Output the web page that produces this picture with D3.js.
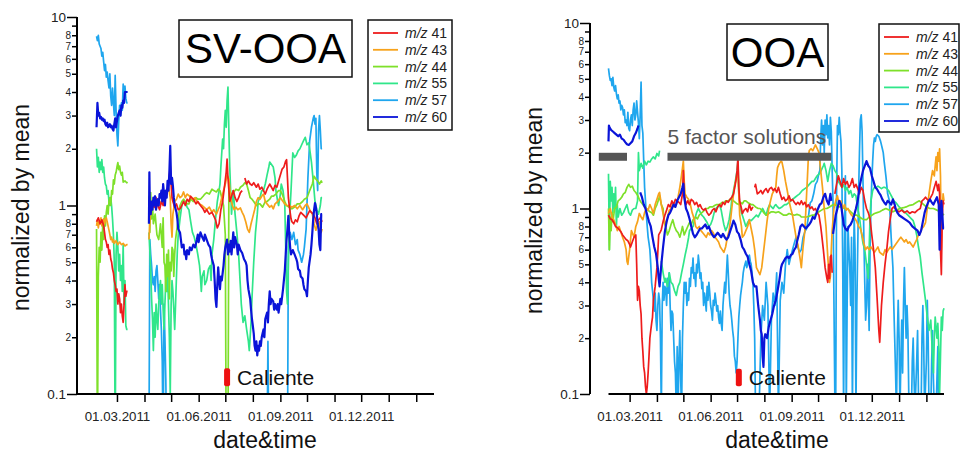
<!DOCTYPE html>
<html>
<head>
<meta charset="utf-8">
<script src="https://cdn.jsdelivr.net/npm/d3@7"></script>
<style>
  body { margin: 0; background: #fff; }
  svg { display: block; }
  text { font-family: "Liberation Sans", Arial, Helvetica, sans-serif; }
</style>
</head>
<body>
<svg id="chart" width="960" height="452"></svg>
<script>
// ---------------------------------------------------------------
// Data: each series is a list of [day, value] pairs, where day is
// the number of days since 1 Jan 2011 and value is the signal
// normalized by its mean. [day, null] breaks the trace.
// ---------------------------------------------------------------
const seriesNames  = ["41", "43", "44", "55", "57", "60"];
const seriesColors = ["#ee1c1c", "#f7a21b", "#7ee02a", "#30e68a", "#1fa6ee", "#0a14d8"];

// ---- SV-OOA ----
const sv41 = [[36,0.82],[38,0.86],[40,0.80],[42,0.84],[44,0.78],[45,0.72],[46,0.66],[47,0.64],[48,0.60],[49,0.62],[50,0.55],[51,0.58],[52,0.52],[53,0.50],[54,0.46],[55,0.44],[56,0.40],[57,0.38],[58,0.35],[59,0.36],[60,0.30],[61,0.34],[62,0.32],[63,0.27],[64,0.30],[65,0.26],[66,0.24],[67,0.30],[68,0.38],[69,0.33],[70,0.35],[71,0.35],[72,null],
  [95,0.95],[97,0.90],[99,1.05],[101,0.98],[103,1.10],[105,1.00],[107,0.95],[109,1.05],[111,1.00],[113,1.12],[115,1.20],[117,1.27],[119,1.62],[120,1.30],[121,1.10],[122,1.05],[124,0.98],[126,1.02],[128,0.95],[130,0.96],[132,1.00],[134,1.05],[136,1.00],[138,1.08],[140,1.05],[142,1.12],[145,1.08],[148,1.02],[150,1.05],[153,1.00],[156,0.96],[158,0.92],[160,0.95],[163,0.90],[166,0.92],[168,0.88],[170,0.84],[172,0.76],[174,0.80],[176,0.95],[178,1.05],[180,1.25],[182,1.50],[183,1.76],[184,1.40],[186,1.05],[188,1.12],[190,1.20],[192,1.10],[194,1.05],[196,1.10],[198,1.17],[200,1.20],[201,null],
  [203,1.40],[205,1.30],[207,1.35],[209,1.30],[211,1.28],[213,1.32],[216,1.25],[218,1.30],[220,1.22],[222,1.25],[224,1.20],[226,1.15],[228,1.22],[231,1.30],[233,1.25],[235,1.20],[237,1.28],[239,1.25],[241,1.35],[243,1.45],[245,1.56],[247,1.60],[249,1.72],[250,1.75],[251,1.40],[252,1.10],[253,1.00],[255,0.85],[256,0.82],[258,0.80],[260,0.84],[262,0.82],[264,0.88],[266,0.92],[268,0.90],[270,0.88],[272,0.86],[274,0.90],[276,0.94],[278,0.92],[280,0.90],[282,0.86],[284,0.80],[286,0.84],[288,0.86],[290,0.82]];

const sv43 = [[36,0.78],[37,0.84],[38,0.76],[39,0.82],[40,0.80],[41,0.86],[42,0.78],[43,0.82],[44,0.85],[45,0.80],[46,0.84],[47,0.86],[48,0.82],[49,0.78],[50,0.74],[51,0.70],[52,0.66],[53,0.68],[54,0.64],[55,0.66],[56,0.63],[58,0.65],[60,0.62],[62,0.64],[64,0.62],[66,0.63],[68,0.61],[70,0.62],[71,0.62],[72,null],
  [95,0.66],[96,0.80],[97,0.93],[99,0.98],[101,1.02],[103,0.95],[105,1.05],[107,1.00],[109,1.05],[111,1.10],[113,1.15],[115,1.20],[117,1.25],[119,1.10],[120,0.80],[121,0.68],[122,0.90],[124,1.05],[126,1.08],[128,1.15],[130,1.10],[132,1.12],[134,1.18],[136,1.10],[138,1.15],[141,1.12],[144,1.08],[147,1.10],[149,1.05],[152,1.02],[155,1.00],[157,0.98],[160,0.95],[163,0.98],[166,0.92],[168,0.95],[171,0.90],[173,0.95],[175,1.00],[177,1.10],[179,1.20],[181,1.30],[183,1.45],[185,1.38],[187,1.10],[189,1.00],[191,0.95],[193,0.98],[195,0.95],[198,0.97],[200,0.92],[202,0.88],[204,0.82],[206,0.75],[208,0.72],[210,0.80],[212,0.87],[214,0.95],[216,1.05],[218,1.10],[220,1.08],[222,1.12],[224,1.15],[226,1.05],[228,1.02],[231,0.98],[233,1.00],[235,0.96],[237,1.02],[240,1.05],[243,1.10],[246,1.05],[248,1.02],[250,1.00],[253,1.00],[256,0.98],[259,1.00],[262,0.96],[265,1.00],[268,0.95],[271,1.00],[273,1.02],[276,0.95],[279,0.90],[281,0.80],[283,0.74],[285,0.80],[287,0.82],[289,0.72],[290,0.75]];

const sv44 = [[36,0.75],[37,0.05],[38,0.42],[39,0.60],[40,0.50],[41,0.72],[42,0.58],[43,0.80],[44,0.66],[45,0.88],[46,0.78],[47,0.92],[48,1.00],[49,0.90],[50,1.05],[51,1.10],[52,1.00],[53,1.20],[54,1.15],[55,1.37],[56,1.30],[57,1.45],[58,1.50],[59,1.60],[60,1.69],[61,1.55],[62,1.62],[63,1.50],[64,1.45],[65,1.50],[66,1.33],[68,1.35],[70,1.32],[71,1.33],[72,null],
  [95,1.12],[96,0.72],[97,1.17],[98,0.85],[99,1.00],[100,0.80],[102,0.90],[104,0.70],[106,0.66],[108,0.80],[110,0.60],[111,0.86],[112,0.50],[113,0.48],[114,0.35],[115,0.55],[116,0.42],[117,0.58],[118,0.32],[119,0.50],[120,0.45],[121,0.60],[122,0.58],[123,0.42],[124,0.55],[125,0.66],[126,0.72],[128,0.85],[130,1.00],[132,1.05],[134,1.08],[136,1.05],[138,1.02],[140,1.02],[142,1.08],[145,1.05],[148,1.10],[150,1.08],[153,1.08],[156,1.12],[158,1.15],[160,1.17],[163,1.15],[166,1.22],[168,1.20],[171,1.18],[173,1.22],[175,1.20],[177,1.10],[179,1.00],[181,0.70],[182,0.05],[184,0.05],[185,1.20],[187,1.15],[190,1.17],[193,1.22],[196,1.20],[198,1.25],[201,1.28],[203,1.32],[205,1.30],[207,1.20],[209,1.10],[211,1.08],[213,1.05],[216,1.00],[218,1.02],[220,1.02],[223,0.98],[226,1.05],[228,1.05],[231,1.08],[233,1.12],[235,1.12],[238,1.15],[241,1.20],[243,1.20],[245,1.15],[248,1.05],[250,1.00],[253,0.98],[256,0.96],[259,0.98],[262,1.02],[265,1.02],[268,1.05],[270,1.08],[273,1.10],[276,1.20],[279,1.30],[281,1.43],[283,1.38],[285,1.35],[287,1.30],[289,1.35],[290,1.32]];

const sv55 = [[36,2.00],[37,1.60],[38,1.80],[39,1.50],[40,1.70],[41,1.55],[42,1.75],[43,1.50],[44,1.60],[45,1.40],[46,1.30],[47,1.27],[48,1.15],[49,1.20],[50,1.05],[51,1.00],[52,1.10],[53,0.99],[54,0.85],[55,0.70],[56,0.50],[57,0.05],[58,0.55],[59,0.72],[60,0.60],[61,0.45],[62,0.55],[63,0.40],[64,0.48],[65,0.35],[66,0.62],[67,0.30],[68,0.40],[69,0.23],[70,0.22],[71,0.22],[72,null],
  [95,0.72],[96,0.58],[97,0.45],[98,0.32],[99,0.25],[100,0.17],[101,0.27],[102,0.20],[103,0.30],[104,0.25],[105,0.22],[106,0.30],[107,0.35],[108,0.40],[109,0.30],[110,0.38],[111,0.28],[112,0.22],[113,0.30],[114,0.40],[115,0.35],[116,0.45],[117,0.30],[118,0.20],[119,0.10],[120,0.30],[121,0.40],[122,0.35],[123,0.28],[124,0.22],[125,0.30],[126,0.42],[127,0.58],[128,0.70],[130,0.85],[132,1.00],[134,1.05],[136,1.05],[138,0.98],[140,0.95],[142,0.82],[144,0.72],[146,0.68],[148,0.62],[150,0.55],[152,0.48],[153,0.42],[154,0.35],[155,0.42],[157,0.45],[158,0.38],[160,0.40],[162,0.46],[164,0.48],[165,0.40],[166,0.55],[168,0.66],[170,0.85],[172,1.05],[174,1.20],[175,1.30],[176,1.60],[177,1.90],[178,2.25],[179,2.00],[180,2.70],[181,3.20],[182,2.60],[183,3.60],[184,4.25],[185,2.50],[186,1.60],[187,1.20],[188,0.90],[190,1.20],[192,0.90],[194,0.72],[196,0.55],[198,0.37],[199,0.30],[201,0.24],[203,0.26],[205,0.22],[207,0.19],[208,0.17],[210,0.24],[211,0.32],[213,0.50],[215,0.72],[217,0.90],[218,1.05],[220,1.10],[222,1.20],[224,1.20],[226,1.30],[228,1.45],[230,1.60],[231,1.70],[233,1.65],[235,1.60],[237,1.40],[238,1.20],[240,1.05],[241,1.00],[243,1.15],[244,1.30],[246,1.20],[248,1.00],[249,0.60],[250,0.35],[251,0.30],[252,0.50],[253,0.80],[255,1.20],[257,1.90],[259,1.80],[261,1.85],[263,1.95],[265,2.00],[267,2.10],[269,2.20],[271,2.30],[273,2.10],[275,2.15],[276,2.00],[278,1.70],[280,1.35],[282,1.05],[284,0.95],[286,0.90],[288,1.00],[289,1.10],[290,1.10]];

const sv57 = [[36,7.90],[37,7.50],[38,8.00],[39,7.20],[40,7.00],[41,6.80],[42,6.20],[43,6.50],[44,5.80],[45,5.20],[46,5.60],[47,4.80],[48,5.10],[49,4.60],[50,4.20],[51,5.00],[52,3.80],[53,3.40],[54,4.20],[55,3.50],[56,3.00],[57,4.90],[58,3.20],[59,2.40],[60,2.07],[61,2.80],[62,3.40],[63,3.00],[64,3.50],[65,3.20],[66,4.40],[67,3.60],[68,4.30],[69,3.70],[70,3.50],[71,3.50],[72,null],
  [95,0.05],[96,0.66],[97,0.55],[98,0.48],[99,0.40],[100,0.38],[101,0.42],[102,0.35],[103,0.45],[104,0.48],[105,0.40],[106,0.32],[107,0.38],[108,0.28],[109,0.22],[110,0.15],[111,0.05],[112,0.30],[113,0.20],[114,0.12],[115,0.05],[116,0.05],[228,0.05],[229,0.19],[230,0.05],[251,0.05],[252,0.60],[254,0.72],[256,0.66],[258,0.72],[260,0.62],[262,0.66],[263,0.58],[265,0.55],[267,0.50],[269,0.55],[270,0.60],[272,0.75],[274,1.40],[276,2.20],[278,2.60],[280,2.90],[281,3.00],[282,2.70],[283,2.90],[284,1.50],[285,1.20],[286,2.50],[287,3.00],[288,2.50],[289,2.00],[290,2.00]];

const sv60 = [[36,2.60],[36.5,3.00],[37,3.50],[38,3.00],[39,3.10],[40,2.90],[41,2.95],[42,2.85],[43,2.90],[44,2.80],[45,2.85],[46,2.70],[47,2.65],[48,2.75],[49,2.60],[50,2.65],[51,2.70],[52,2.60],[53,2.65],[54,2.55],[55,2.50],[56,2.70],[57,2.90],[58,2.60],[59,2.80],[60,3.00],[61,3.10],[62,3.20],[63,3.00],[64,3.40],[65,3.30],[66,3.60],[67,3.50],[68,4.00],[69,4.00],[70,4.00],[71,4.00],[72,null],
  [95,0.80],[95.5,1.50],[96,1.00],[97,0.90],[98,1.05],[99,0.95],[100,1.10],[101,1.00],[102,1.12],[103,0.95],[104,1.05],[105,1.08],[106,1.00],[107,1.15],[108,1.10],[109,1.20],[110,1.05],[111,1.30],[112,1.15],[113,1.00],[114,1.20],[115,1.10],[116,1.35],[117,1.20],[118,1.50],[119,2.07],[120,1.30],[121,1.40],[122,1.27],[123,1.10],[124,1.00],[126,0.92],[127,0.85],[128,0.75],[130,0.72],[131,0.66],[132,0.60],[134,0.62],[135,0.55],[136,0.57],[137,0.52],[138,0.58],[140,0.55],[141,0.60],[143,0.58],[145,0.62],[147,0.60],[149,0.66],[150,0.70],[151,0.64],[153,0.72],[155,0.68],[157,0.65],[158,0.70],[160,0.66],[162,0.62],[164,0.60],[165,0.55],[166,0.52],[167,0.50],[168,0.48],[169,0.40],[170,0.32],[171,0.29],[172,0.38],[173,0.47],[174,0.40],[175,0.36],[176,0.42],[177,0.40],[179,0.48],[180,0.55],[181,0.60],[183,0.66],[184,0.55],[185,0.62],[186,0.57],[187,0.65],[188,0.55],[190,0.72],[191,0.60],[192,0.68],[194,0.62],[195,0.55],[196,0.62],[198,0.58],[200,0.56],[202,0.52],[204,0.50],[205,0.48],[206,0.40],[207,0.36],[209,0.32],[210,0.28],[211,0.25],[212,0.23],[213,0.21],[214,0.18],[215,0.17],[216,0.19],[217,0.16],[218,0.18],[219,0.17],[220,0.19],[221,0.18],[222,0.20],[223,0.21],[224,0.22],[225,0.20],[226,0.25],[228,0.27],[229,0.24],[230,0.30],[231,0.35],[232,0.30],[233,0.32],[235,0.31],[236,0.28],[237,0.30],[239,0.28],[240,0.30],[241,0.27],[243,0.32],[244,0.30],[246,0.36],[248,0.45],[249,0.55],[250,0.66],[251,0.75],[252,0.88],[253,0.70],[254,0.60],[255,0.55],[257,0.58],[259,0.55],[261,0.52],[262,0.50],[263,0.46],[265,0.45],[266,0.42],[268,0.41],[269,0.38],[270,0.36],[272,0.35],[273,0.33],[274,0.40],[275,0.47],[277,0.55],[278,0.62],[279,0.72],[280,0.85],[281,0.95],[282,1.03],[283,0.98],[284,0.90],[285,0.80],[286,0.75],[287,0.62],[288,0.58],[289,0.90],[290,0.90]];

// ---- OOA ----
const ooa41 = [[35,0.92],[37,0.88],[39,0.87],[41,0.84],[43,0.80],[45,0.79],[47,0.77],[49,0.75],[51,0.72],[53,0.70],[55,0.68],[57,0.67],[59,0.64],[60,0.62],[62,0.66],[64,0.70],[66,0.72],[67,0.50],[68,0.32],[69,0.38],[70,0.36],[71,0.30],[72,0.27],[73,0.20],[74,0.17],[75,0.14],[76,0.13],[77,0.11],[78,0.10],[79,0.11],[80,0.13],[81,0.16],[82,0.20],[83,0.22],[84,0.24],[85,0.26],[86,0.32],[88,0.38],[90,0.48],[91,0.58],[92,0.72],[94,0.75],[95,0.77],[97,0.85],[99,0.92],[101,0.98],[103,1.05],[105,1.02],[107,1.10],[109,1.05],[111,1.12],[113,1.10],[115,1.08],[117,1.05],[119,1.20],[120,1.60],[121,1.20],[123,1.05],[125,1.10],[127,1.05],[129,1.12],[131,1.10],[133,1.05],[135,1.08],[137,1.02],[139,1.05],[141,1.00],[143,0.98],[145,1.00],[147,0.95],[149,0.92],[151,0.94],[153,0.98],[155,1.00],[157,0.96],[159,1.02],[161,1.05],[163,1.02],[165,1.08],[167,1.05],[169,1.10],[171,1.08],[173,1.12],[175,1.15],[177,1.20],[179,1.35],[180,1.45],[181,1.60],[182,1.88],[183,1.30],[184,1.10],[186,1.00],[187,0.94],[189,0.98],[191,1.00],[193,0.96],[195,1.05],[197,0.98],[199,1.02],[200,null],
  [201,1.30],[202,1.35],[204,1.20],[206,1.22],[208,1.25],[210,1.20],[212,1.25],[214,1.28],[216,1.22],[218,1.28],[220,1.30],[222,1.25],[224,1.28],[226,1.22],[228,1.30],[230,1.20],[232,1.12],[234,1.15],[236,1.10],[238,1.12],[240,1.17],[242,1.10],[244,1.12],[246,1.08],[248,1.05],[250,1.08],[252,1.05],[254,1.10],[256,1.05],[258,1.08],[260,1.02],[262,1.05],[264,1.00],[266,1.02],[268,0.98],[270,1.00],[272,0.95],[274,0.92],[276,0.80],[277,0.73],[279,0.60],[281,0.48],[283,0.42],[284,0.40],[285,0.50],[286,0.42],[287,0.55],[288,0.56],[289,0.45],[290,null],
  [292,1.20],[294,1.35],[296,1.50],[298,1.40],[300,1.30],[302,1.45],[304,1.35],[306,1.40],[308,1.30],[310,1.35],[312,1.45],[314,1.30],[316,1.35],[318,1.28],[320,1.20],[322,1.30],[324,1.25],[326,1.10],[328,1.00],[330,0.95],[332,0.88],[334,0.72],[336,0.60],[338,0.48],[340,0.33],[342,0.22],[343,0.19],[345,0.30],[347,0.40],[349,0.50],[351,0.60],[353,0.75],[355,0.88],[357,1.00],[359,1.02],[362,0.98],[365,0.96],[368,0.98],[371,0.95],[374,0.97],[377,0.94],[380,0.96],[383,0.95],[386,0.98],[389,1.00],[391,1.10],[393,1.12],[395,1.15],[397,1.12],[399,1.10],[401,1.15],[403,1.20],[405,1.30],[407,1.40],[409,1.25],[410,1.35],[411,1.20],[412,0.60],[413,0.44],[414,0.90],[415,1.10],[416,1.05]];

const ooa43 = [[35,0.94],[37,1.00],[39,0.90],[41,0.87],[43,0.82],[45,0.76],[47,0.80],[49,0.75],[51,0.70],[53,0.66],[55,0.60],[56,0.52],[57,0.50],[58,0.55],[59,0.60],[61,0.76],[63,0.72],[64,0.70],[66,0.80],[68,0.85],[70,0.94],[72,0.90],[74,0.87],[76,0.95],[78,1.00],[80,0.98],[82,1.05],[84,1.00],[86,0.94],[88,1.05],[90,1.12],[92,1.20],[93,1.22],[95,1.05],[97,0.94],[99,0.85],[100,0.80],[102,0.90],[104,0.98],[106,1.00],[108,1.05],[110,1.02],[112,1.05],[114,1.15],[116,1.30],[117,1.40],[119,1.65],[120,1.80],[121,1.40],[122,1.20],[124,1.15],[126,1.12],[128,1.05],[130,0.95],[131,0.92],[133,0.85],[134,0.80],[136,0.78],[138,0.80],[140,0.76],[142,0.74],[144,0.72],[146,0.70],[148,0.74],[150,0.72],[152,0.76],[154,0.74],[156,0.70],[158,0.68],[160,0.66],[162,0.62],[164,0.60],[166,0.58],[168,0.62],[170,0.70],[172,0.76],[174,0.90],[175,1.00],[176,1.10],[178,1.30],[180,1.45],[182,1.55],[183,1.20],[184,0.92],[186,0.80],[187,0.70],[189,0.72],[191,0.76],[193,0.80],[195,0.87],[197,0.78],[199,0.70],[201,0.60],[203,0.48],[205,0.46],[207,0.44],[209,0.48],[211,0.58],[213,0.70],[215,0.85],[217,1.00],[219,1.10],[221,1.20],[223,1.25],[225,1.30],[226,1.50],[227,1.66],[229,1.75],[231,1.80],[232,1.78],[234,1.60],[236,1.40],[238,1.25],[240,1.10],[242,1.00],[244,0.92],[246,0.80],[248,0.70],[250,0.64],[251,0.60],[253,0.52],[254,0.48],[255,0.55],[256,0.62],[258,0.76],[259,0.95],[260,1.20],[261,1.50],[262,1.90],[263,2.05],[265,2.10],[267,2.05],[269,2.15],[270,2.20],[272,2.10],[274,2.00],[276,1.60],[278,1.30],[280,1.00],[282,0.80],[284,0.55],[286,0.40],[287,0.43],[288,0.60],[289,0.76],[291,1.00],[293,1.10],[295,1.17],[297,1.05],[299,1.10],[301,1.00],[303,1.05],[305,0.98],[307,1.00],[309,0.95],[311,0.92],[313,0.90],[315,0.88],[317,0.85],[319,0.80],[321,0.78],[323,0.72],[325,0.65],[327,0.60],[329,0.62],[331,0.60],[333,0.62],[335,0.60],[337,0.58],[339,0.60],[341,0.62],[343,0.58],[345,0.57],[347,0.56],[349,0.60],[351,0.58],[353,0.60],[355,0.62],[357,0.60],[359,0.62],[361,0.64],[363,0.66],[365,0.68],[367,0.70],[369,0.68],[371,0.66],[373,0.68],[375,0.65],[377,0.66],[379,0.64],[381,0.62],[383,0.65],[385,0.68],[387,0.72],[389,0.74],[391,0.78],[393,0.80],[395,0.84],[397,1.00],[399,1.20],[401,1.40],[403,1.60],[405,1.50],[406,1.70],[407,1.90],[408,1.60],[409,2.00],[410,1.80],[411,2.10],[412,1.50],[413,0.60],[414,1.00],[415,1.20],[416,1.10]];

const ooa44 = [[35,1.00],[36,0.60],[37,0.90],[38,0.76],[39,0.95],[40,0.85],[42,1.00],[44,1.02],[46,1.10],[48,1.12],[50,1.15],[52,1.20],[54,1.22],[56,1.30],[58,1.35],[60,1.30],[62,1.32],[64,1.25],[66,1.22],[68,1.18],[70,1.12],[72,1.08],[74,1.05],[76,1.02],[78,1.00],[80,0.98],[82,0.96],[84,0.95],[86,0.92],[88,1.00],[90,1.05],[92,1.12],[93,1.17],[95,1.05],[97,1.00],[98,0.85],[100,0.80],[102,0.72],[104,0.76],[106,0.82],[108,0.87],[110,0.80],[112,0.76],[114,0.74],[116,0.70],[118,0.76],[119,0.80],[121,0.72],[123,0.76],[125,0.80],[127,0.84],[129,0.82],[131,0.87],[134,0.90],[136,0.88],[138,0.92],[140,0.94],[142,0.96],[144,0.98],[146,1.00],[148,1.00],[150,1.02],[153,1.02],[156,1.04],[158,1.05],[161,1.05],[164,1.08],[166,1.07],[168,1.10],[171,1.10],[173,1.12],[175,1.12],[177,1.10],[179,1.08],[181,1.06],[183,1.05],[185,1.08],[187,1.06],[189,1.10],[191,1.10],[194,1.07],[197,1.05],[199,1.05],[202,1.02],[205,1.00],[207,1.00],[210,0.97],[212,0.94],[214,0.92],[217,0.94],[220,0.96],[222,0.96],[225,0.95],[228,0.96],[231,0.94],[234,0.92],[237,0.92],[240,0.94],[243,0.93],[246,0.92],[249,0.93],[252,0.92],[254,0.90],[257,0.90],[260,0.90],[263,0.91],[266,0.92],[268,0.92],[271,0.94],[274,0.96],[277,0.98],[280,1.00],[283,1.00],[286,1.02],[289,1.04],[291,1.05],[294,1.04],[297,1.02],[300,1.02],[303,1.00],[306,1.00],[309,0.97],[312,0.94],[314,0.92],[317,0.92],[320,0.90],[323,0.88],[326,0.87],[328,0.87],[331,0.90],[334,0.92],[337,0.94],[340,0.95],[343,0.96],[346,0.98],[350,1.00],[354,0.98],[358,0.96],[362,0.98],[366,1.00],[370,1.01],[373,1.02],[377,1.04],[381,1.05],[385,1.08],[388,1.10],[392,1.06],[396,1.02],[400,1.00],[404,1.00],[408,0.98],[411,0.96],[414,0.94],[416,0.92]];

const ooa55 = [[35,1.54],[36,0.60],[37,1.40],[38,1.10],[39,1.30],[40,0.95],[41,1.20],[42,1.00],[43,1.30],[44,0.80],[45,1.05],[46,0.90],[48,1.00],[50,0.92],[52,0.95],[54,1.00],[56,1.05],[58,0.95],[60,0.92],[62,0.98],[64,1.00],[66,1.00],[68,1.10],[69,2.00],[70,1.60],[72,1.75],[74,1.65],[76,1.80],[78,1.72],[80,1.80],[82,1.78],[84,1.85],[86,1.90],[88,1.85],[90,1.98],[92,1.92],[93,2.05],[94,null],
  [95,0.52],[97,0.45],[99,0.40],[100,0.42],[102,0.38],[104,0.45],[106,0.40],[108,0.39],[110,0.36],[112,0.34],[114,0.38],[116,0.40],[118,0.45],[120,0.50],[122,0.56],[124,0.62],[126,0.70],[127,0.76],[129,0.78],[131,0.80],[133,0.88],[135,0.95],[137,1.00],[139,0.96],[141,0.92],[143,0.90],[145,0.87],[147,0.84],[149,0.80],[151,0.82],[153,0.87],[155,0.95],[157,1.00],[159,1.02],[161,1.05],[163,0.98],[164,0.92],[166,0.82],[168,0.76],[170,0.80],[172,0.87],[174,1.00],[175,1.12],[177,1.25],[179,1.40],[181,1.60],[182,1.80],[183,1.20],[184,1.05],[186,0.95],[187,0.92],[189,0.86],[191,0.80],[193,0.84],[195,0.87],[197,0.86],[199,0.88],[201,0.90],[203,0.92],[205,0.90],[207,0.94],[210,1.00],[212,0.96],[214,0.92],[216,1.00],[218,1.05],[220,1.02],[222,1.00],[224,1.04],[225,1.05],[227,1.02],[229,1.00],[232,1.02],[235,1.05],[237,1.05],[240,1.08],[242,1.10],[244,1.12],[247,1.15],[250,1.18],[252,1.20],[255,1.25],[258,1.28],[260,1.30],[263,1.35],[266,1.40],[268,1.40],[270,1.45],[272,1.50],[275,1.55],[277,1.62],[279,1.70],[280,1.75],[282,1.60],[284,1.40],[286,1.60],[288,1.75],[290,1.70],[292,1.60],[294,1.55],[296,1.40],[298,1.35],[300,1.30],[302,1.35],[304,1.25],[306,1.30],[308,1.20],[310,1.25],[312,1.15],[314,1.20],[316,1.17],[318,1.00],[320,0.90],[322,0.75],[324,0.65],[326,0.60],[328,0.50],[330,0.42],[331,0.60],[332,0.90],[333,1.10],[335,1.25],[337,1.30],[339,1.30],[341,1.32],[343,1.30],[345,1.28],[347,1.30],[349,1.30],[351,1.28],[353,1.25],[355,1.20],[357,1.15],[359,1.10],[361,1.08],[363,1.05],[365,1.02],[367,1.00],[369,0.98],[371,0.96],[373,0.94],[375,0.92],[377,0.90],[379,0.88],[381,0.86],[383,0.80],[385,0.72],[387,0.62],[389,0.55],[391,0.45],[393,0.38],[395,0.32],[397,0.26],[399,0.22],[401,0.25],[403,0.16],[404,0.13],[405,0.20],[406,0.26],[408,0.20],[409,0.24],[410,0.18],[411,0.10],[412,0.16],[413,0.26],[414,0.22],[415,0.28],[416,0.29]];

const ooa57 = [[35,5.70],[36,5.20],[37,4.90],[38,5.00],[39,4.60],[40,5.10],[41,4.50],[42,4.30],[43,4.60],[44,4.15],[45,3.90],[46,4.10],[47,3.70],[48,3.80],[49,3.40],[50,3.60],[51,3.50],[52,3.20],[53,3.40],[54,2.90],[55,3.00],[56,2.80],[57,3.30],[58,2.70],[59,2.63],[60,3.00],[61,3.20],[62,2.80],[63,3.40],[64,3.70],[65,3.00],[66,3.20],[67,3.80],[68,3.30],[69,2.90],[70,2.38],[71,3.20],[72,4.80],[73,2.80],[74,2.55],[75,1.80],[76,1.30],[77,1.10],[78,0.92],[79,0.80],[80,0.70],[81,0.65],[82,0.60],[83,0.50],[84,0.40],[85,0.36],[86,0.32],[87,0.28],[88,0.35],[89,0.25],[90,0.22],[91,0.30],[92,0.35],[93,0.32],[94,0.20],[95,0.08],[96,0.30],[97,0.40],[98,0.32],[99,0.38],[100,0.37],[101,0.30],[102,0.42],[103,0.35],[104,0.45],[105,0.30],[106,0.22],[107,0.28],[108,0.27],[109,0.20],[110,0.15],[111,0.13],[112,0.08],[113,0.18],[114,0.08],[115,0.15],[116,0.22],[117,0.12],[118,0.08],[119,0.20],[120,0.30],[121,0.40],[122,0.35],[123,0.40],[124,0.30],[125,0.35],[126,0.32],[127,0.42],[128,0.38],[129,0.48],[130,0.45],[131,0.54],[132,0.42],[133,0.45],[134,0.38],[135,0.50],[136,0.45],[137,0.56],[138,0.50],[139,0.42],[140,0.45],[141,0.37],[142,0.40],[143,0.30],[144,0.35],[145,0.32],[146,0.28],[147,0.38],[148,0.32],[149,0.40],[150,0.35],[151,0.30],[152,0.28],[153,0.25],[154,0.32],[155,0.30],[156,0.35],[157,0.32],[158,0.28],[159,0.30],[160,0.26],[161,0.24],[162,0.28],[163,0.24],[164,0.22],[165,0.30],[166,0.35],[167,0.40],[168,0.35],[169,0.45],[170,0.56],[171,0.45],[172,0.35],[173,0.30],[174,0.28],[175,0.25],[176,0.22],[177,0.20],[178,0.16],[179,0.15],[180,0.13],[181,0.15],[182,0.20],[183,0.26],[184,0.30],[185,0.34],[186,0.37],[187,0.40],[188,0.45],[189,0.48],[190,0.50],[191,0.52],[192,0.48],[193,0.50],[194,0.55],[195,0.56],[196,0.52],[197,0.50],[198,0.45],[199,0.40],[200,0.30],[201,0.20],[202,0.08],[206,0.08],[208,0.20],[210,0.30],[212,0.25],[214,0.40],[216,0.30],[218,0.08],[220,0.25],[222,0.35],[224,0.30],[226,0.45],[228,0.08],[230,0.32],[232,0.40],[234,0.35],[236,0.50],[238,0.60],[240,0.50],[242,0.55],[244,0.60],[246,0.65],[248,0.70],[250,0.62],[252,0.58],[254,0.60],[256,0.70],[258,0.75],[260,0.78],[262,0.90],[264,1.07],[266,1.10],[268,1.20],[270,1.35],[272,1.40],[274,1.55],[275,1.60],[276,2.40],[277,3.00],[278,2.20],[279,2.80],[280,2.00],[281,3.00],[282,2.50],[283,3.20],[284,2.40],[285,2.80],[286,2.20],[287,3.10],[288,2.60],[289,1.60],[290,1.07],[291,0.32],[292,0.10],[293,0.08],[294,1.20],[295,2.80],[296,2.50],[297,3.10],[298,2.60],[299,2.30],[300,1.60],[301,0.50],[302,0.08],[303,0.60],[304,1.50],[305,0.08],[306,0.30],[307,0.80],[308,0.60],[309,0.48],[310,0.30],[311,0.70],[312,0.08],[313,0.40],[314,0.90],[315,0.60],[316,0.08],[317,0.30],[318,0.60],[319,1.20],[320,2.00],[321,3.00],[322,3.20],[323,2.60],[324,1.40],[325,0.70],[326,0.40],[327,0.25],[328,0.30],[329,0.50],[330,0.35],[331,0.22],[332,0.60],[333,1.00],[334,1.40],[335,1.80],[336,2.20],[337,2.40],[338,2.30],[339,2.45],[340,2.50],[342,2.45],[344,2.30],[346,2.10],[347,2.00],[348,1.80],[350,1.50],[352,1.20],[354,1.10],[356,0.70],[358,0.48],[359,0.30],[360,0.20],[361,0.13],[362,0.08],[363,0.20],[364,0.32],[365,0.20],[366,0.08],[367,0.15],[368,0.25],[369,0.13],[370,0.30],[371,0.48],[372,0.30],[373,0.20],[374,0.30],[375,0.22],[376,0.10],[377,0.08],[378,0.10],[379,0.08],[380,0.15],[381,0.20],[382,0.12],[383,0.08],[385,0.15],[386,0.22],[387,0.10],[388,0.08],[390,0.08],[391,0.20],[392,0.30],[393,0.18],[394,0.08],[396,0.15],[397,0.32],[398,0.20],[399,0.08],[401,0.08],[402,0.15],[403,0.22],[404,0.12],[405,0.08],[407,0.08],[408,0.12],[409,0.18],[410,0.08],[412,0.08],[414,0.10],[416,0.08]];

const ooa60 = [[35,2.30],[35.5,2.80],[36,2.75],[38,2.65],[40,2.60],[42,2.55],[44,2.50],[46,2.45],[48,2.50],[50,2.38],[52,2.35],[54,2.28],[56,2.22],[58,2.20],[60,2.25],[62,2.30],[64,2.45],[66,2.55],[68,2.70],[69,2.80],[70,null],
  [71,1.22],[73,1.15],[75,1.05],[77,1.00],[79,0.92],[81,0.85],[83,0.80],[85,0.70],[87,0.62],[89,0.57],[91,0.48],[92,0.42],[93,0.38],[95,0.50],[97,0.62],[99,0.75],[101,0.85],[103,0.92],[105,0.95],[107,1.00],[109,1.05],[111,1.02],[113,1.10],[115,1.15],[117,1.20],[119,1.30],[120,1.36],[121,1.15],[123,1.00],[125,0.95],[127,0.88],[129,0.80],[131,0.73],[133,0.70],[135,0.72],[137,0.75],[139,0.78],[141,0.78],[143,0.80],[145,0.82],[147,0.78],[149,0.80],[151,0.75],[153,0.72],[155,0.70],[157,0.72],[159,0.74],[161,0.72],[163,0.70],[165,0.73],[167,0.70],[169,0.68],[171,0.70],[173,0.75],[175,0.80],[177,0.86],[179,0.82],[181,0.75],[183,0.73],[185,0.68],[187,0.62],[189,0.60],[191,0.57],[193,0.55],[195,0.50],[197,0.46],[199,0.40],[201,0.38],[203,0.38],[205,0.30],[207,0.25],[208,0.22],[209,0.21],[210,0.16],[211,0.14],[212,0.20],[213,0.21],[215,0.20],[217,0.23],[219,0.25],[221,0.27],[223,0.30],[225,0.32],[227,0.36],[229,0.41],[231,0.48],[232,0.50],[234,0.52],[236,0.54],[238,0.55],[240,0.54],[242,0.56],[244,0.57],[246,0.60],[248,0.62],[249,0.66],[251,0.72],[253,0.80],[255,0.82],[257,0.80],[259,0.78],[261,0.80],[263,0.82],[265,0.85],[267,0.90],[269,0.88],[271,0.94],[273,1.00],[275,1.05],[277,1.07],[279,1.15],[281,1.20],[283,1.10],[285,1.05],[287,1.20],[288,1.10],[289,null],
  [290,0.73],[292,0.85],[293,0.92],[295,1.00],[297,1.10],[299,1.05],[301,0.90],[302,0.82],[304,0.78],[306,0.76],[308,0.80],[310,0.82],[312,0.86],[314,0.92],[316,1.00],[318,1.10],[320,1.30],[322,1.45],[324,1.60],[326,1.70],[328,1.80],[330,1.70],[332,1.65],[334,1.50],[336,1.40],[338,1.30],[340,1.27],[342,1.22],[344,1.18],[346,1.12],[348,1.08],[350,1.05],[352,1.10],[354,1.08],[356,1.05],[358,1.12],[360,1.05],[361,1.00],[363,0.95],[365,0.92],[368,0.90],[371,0.88],[374,0.86],[377,0.84],[380,0.80],[383,0.78],[386,0.76],[388,0.72],[390,0.76],[392,0.85],[394,0.95],[396,1.02],[398,1.08],[400,1.12],[402,1.08],[404,1.05],[406,1.10],[408,1.15],[409,1.10],[410,1.05],[411,0.60],[412,0.92],[413,1.10],[414,0.95],[415,0.78],[416,0.78]];

// Periods covered by 5-factor solutions (days since 1 Jan 2011) and their plotted level
const fiveFactorPeriods = [[24, 56], [102, 288]];
const fiveFactorLevel = 1.9;

// Caliente campaign (day) and the span of its marker on the value axis
const calienteDay = 183;
const calienteSpan = [0.11, 0.137];

// Axis ticks
const yTickValues = [0.1,0.2,0.3,0.4,0.5,0.6,0.7,0.8,0.9,1,2,3,4,5,6,7,8,9,10];
const yTickLabels = {0.1:"0.1",0.2:"2",0.3:"3",0.4:"4",0.5:"5",0.6:"6",0.7:"7",0.8:"8",
                     1:"1",2:"2",3:"3",4:"4",5:"5",6:"6",7:"7",8:"8",10:"10"};
const yMajor = [0.1, 1, 10];
const xLabelMonths = [2, 5, 8, 11];   // March, June, September, December

// ---------------------------------------------------------------
const DAY_MS = 86400000;
const BASE = Date.UTC(2011, 0, 1);
const toDate = d => new Date(BASE + d * DAY_MS);
const FONT = '"Liberation Sans", Arial, Helvetica, sans-serif';

const svg = d3.select("#chart");

const panels = [
  { title: "SV-OOA", series: [sv41, sv43, sv44, sv55, sv57, sv60],
    left: 77, right: 434, top: 17, bottom: 394, axisFrom: 14,
    box: [179, 20, 173, 57], legend: [368, 20, 84, 110], legendY0: 33,
    yTitleX: 29, xTitleX: 265, periods: null },
  { title: "OOA", series: [ooa41, ooa43, ooa44, ooa55, ooa57, ooa60],
    left: 590, right: 944, top: 23, bottom: 394, axisFrom: 35,
    box: [727, 24, 101, 56], legend: [879, 24, 80, 108], legendY0: 37,
    yTitleX: 542, xTitleX: 777, periods: fiveFactorPeriods }
];

// drawing order of the traces (index into the series lists)
const drawOrder = [4, 3, 2, 1, 0, 5];

panels.forEach((p, pi) => {
  const x = d3.scaleUtc().domain([toDate(14), toDate(416)]).range([p.left, p.right]);
  const y = d3.scaleLog().domain([0.1, 10]).range([p.bottom, p.top]);

  const g = svg.append("g");

  // clip traces to the plotting area
  const clipId = "clip" + pi;
  svg.append("clipPath").attr("id", clipId)
    .append("rect")
    .attr("x", p.left).attr("y", p.top - 1)
    .attr("width", p.right - p.left + 2).attr("height", p.bottom - p.top + 1);

  const line = d3.line()
    .defined(d => d[1] != null)
    .x(d => x(toDate(d[0])))
    .y(d => y(Math.max(d[1], 0.02)));

  const traces = g.append("g").attr("clip-path", `url(#${clipId})`);
  drawOrder.forEach(i => {
    traces.append("path")
      .datum(p.series[i])
      .attr("d", line)
      .attr("fill", "none")
      .attr("stroke", seriesColors[i])
      .attr("stroke-width", i === 5 ? 2.2 : 1.7)
      .attr("stroke-linejoin", "round");
  });

  // 5-factor solution periods
  if (p.periods) {
    p.periods.forEach(([a, b]) => {
      g.append("line")
        .attr("x1", x(toDate(a))).attr("x2", x(toDate(b)))
        .attr("y1", y(fiveFactorLevel)).attr("y2", y(fiveFactorLevel))
        .attr("stroke", "#555").attr("stroke-width", 8);
    });
    g.append("text")
      .attr("x", x(toDate(p.periods[1][0])))
      .attr("y", y(fiveFactorLevel) - 13)
      .attr("font-size", 21).attr("fill", "#555")
      .text("5 factor solutions");
  }

  // y axis
  const yAxis = d3.axisLeft(y)
    .tickValues(yTickValues)
    .tickSize(5)
    .tickFormat(v => yTickLabels[v] || "");
  const ya = g.append("g").attr("transform", `translate(${p.left},0)`).call(yAxis);
  ya.select(".domain").remove();
  ya.selectAll(".tick line").attr("stroke", "#000").attr("stroke-width", 1.5);
  ya.selectAll(".tick text")
    .attr("fill", "#222").attr("font-family", FONT)
    .attr("font-size", 10).attr("x", -6);
  ya.selectAll(".tick").filter(v => yMajor.includes(v))
    .call(t => t.select("line").attr("x2", -10))
    .call(t => t.select("text").attr("font-size", 13.5).attr("x", -11));
  g.append("line")
    .attr("x1", p.left).attr("x2", p.left)
    .attr("y1", p.top).attr("y2", p.bottom)
    .attr("stroke", "#000").attr("stroke-width", 2);

  // x axis
  const months = d3.utcMonth.range(toDate(59), toDate(397));
  const fmt = d3.utcFormat("%d.%m.%Y");
  const xAxis = d3.axisBottom(x)
    .tickValues(months)
    .tickSize(8)
    .tickFormat(d => xLabelMonths.includes(d.getUTCMonth()) ? fmt(d) : "");
  const xa = g.append("g").attr("transform", `translate(0,${p.bottom})`).call(xAxis);
  xa.select(".domain").remove();
  xa.selectAll(".tick line").attr("stroke", "#000").attr("stroke-width", 1.5);
  xa.selectAll(".tick text")
    .attr("fill", "#222").attr("font-family", FONT)
    .attr("font-size", 13.3).attr("y", 18);
  g.append("line")
    .attr("x1", x(toDate(p.axisFrom))).attr("x2", p.right)
    .attr("y1", p.bottom).attr("y2", p.bottom)
    .attr("stroke", "#000").attr("stroke-width", 2);

  // axis titles
  g.append("text")
    .attr("transform", `translate(${p.yTitleX},${(p.top + p.bottom) / 2 + 2}) rotate(-90)`)
    .attr("text-anchor", "middle").attr("font-size", 23).attr("fill", "#111")
    .text("normalized by mean");
  g.append("text")
    .attr("x", p.xTitleX).attr("y", 448)
    .attr("text-anchor", "middle").attr("font-size", 23).attr("fill", "#111")
    .text("date&time");

  // Caliente marker
  const cx = x(toDate(calienteDay));
  const cy0 = y(calienteSpan[1]), cy1 = y(calienteSpan[0]);
  g.append("rect")
    .attr("x", cx - 3).attr("y", cy0)
    .attr("width", 6).attr("height", cy1 - cy0)
    .attr("rx", 2).attr("fill", "#ee1111");
  g.append("text")
    .attr("x", cx + 10).attr("y", cy1 - 1)
    .attr("font-size", 21).attr("fill", "#111")
    .text("Caliente");

  // title box
  const [bx, by, bw, bh] = p.box;
  g.append("rect")
    .attr("x", bx).attr("y", by).attr("width", bw).attr("height", bh)
    .attr("fill", "#fff").attr("stroke", "#111").attr("stroke-width", 1.5);
  g.append("text")
    .attr("x", bx + bw / 2).attr("y", by + 43)
    .attr("text-anchor", "middle").attr("font-size", 42).attr("fill", "#000")
    .text(p.title);

  // legend
  const [lx, ly, lw, lh] = p.legend;
  g.append("rect")
    .attr("x", lx).attr("y", ly).attr("width", lw).attr("height", lh)
    .attr("fill", "#fff").attr("stroke", "#111").attr("stroke-width", 1.5);
  seriesNames.forEach((name, i) => {
    const yy = p.legendY0 + i * 16.8;
    g.append("line")
      .attr("x1", lx + 5).attr("x2", lx + 30)
      .attr("y1", yy).attr("y2", yy)
      .attr("stroke", seriesColors[i]).attr("stroke-width", 1.8);
    const t = g.append("text")
      .attr("x", lx + 37).attr("y", yy + 5)
      .attr("font-size", 14).attr("fill", "#222");
    t.append("tspan").attr("font-style", "italic").text("m/z");
    t.append("tspan").text(" " + name);
  });
});
</script>
</body>
</html>
